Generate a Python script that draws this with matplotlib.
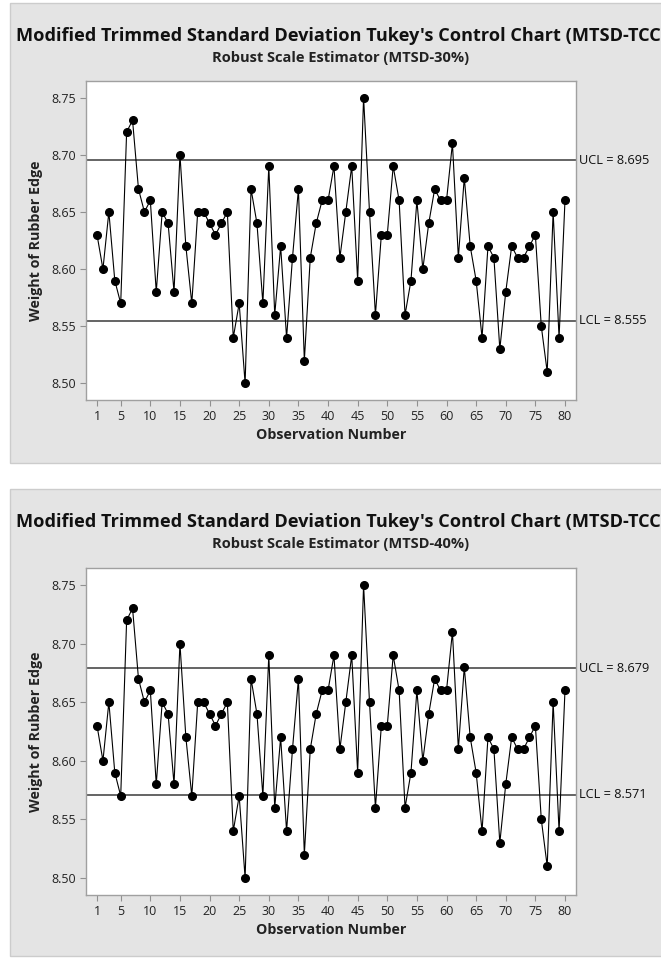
import matplotlib.pyplot as plt
from matplotlib.patches import Rectangle

plt.rcParams['font.family'] = ['Open Sans', 'DejaVu Sans']

# weight of rubber edge, observations 1..80
obs = list(range(1, 81))
weight = [8.63, 8.60, 8.65, 8.59, 8.57, 8.72, 8.73, 8.67, 8.65, 8.66,
          8.58, 8.65, 8.64, 8.58, 8.70, 8.62, 8.57, 8.65, 8.65, 8.64,
          8.63, 8.64, 8.65, 8.54, 8.57, 8.50, 8.67, 8.64, 8.57, 8.69,
          8.56, 8.62, 8.54, 8.61, 8.67, 8.52, 8.61, 8.64, 8.66, 8.66,
          8.69, 8.61, 8.65, 8.69, 8.59, 8.75, 8.65, 8.56, 8.63, 8.63,
          8.69, 8.66, 8.56, 8.59, 8.66, 8.60, 8.64, 8.67, 8.66, 8.66,
          8.71, 8.61, 8.68, 8.62, 8.59, 8.54, 8.62, 8.61, 8.53, 8.58,
          8.62, 8.61, 8.61, 8.62, 8.63, 8.55, 8.51, 8.65, 8.54, 8.66]

subtitles = ["Robust Scale Estimator (MTSD-30%)", "Robust Scale Estimator (MTSD-40%)"]
ucl_vals = [8.695, 8.679]
lcl_vals = [8.555, 8.571]

x_ticks = [1, 5, 10, 15, 20, 25, 30, 35, 40, 45, 50, 55, 60, 65, 70, 75, 80]
y_ticks = [8.50, 8.55, 8.60, 8.65, 8.70, 8.75]

W, H = 661, 958
fig = plt.figure(figsize=(W / 100, H / 100), dpi=100)

BG = '#e4e4e4'

def px_rect(left, top, right, bottom):
    return [left / W, 1 - bottom / H, (right - left) / W, (bottom - top) / H]

def panel(top, bottom, ax_top, ax_bottom, subtitle, ucl, lcl):
    # gray frame behind each chart
    fig.patches.append(Rectangle((10 / W, 1 - bottom / H), (W - 10) / W + 0.01,
                                 (bottom - top) / H, transform=fig.transFigure,
                                 facecolor=BG, edgecolor='#cccccc', lw=1, zorder=-5))
    # long title runs off the right edge of the frame
    fig.text(16 / W, 1 - (top + 33) / H,
             "Modified Trimmed Standard Deviation Tukey's Control Chart (MTSD-TCC)",
             ha='left', va='center', fontsize=13.1, fontweight='bold', color='#111111')
    fig.text(341 / W, 1 - (top + 55) / H, subtitle, ha='center', va='center',
             fontsize=10.5, fontweight='bold', color='#222222')

    ax = fig.add_axes(px_rect(86, ax_top, 576, ax_bottom))
    ax.plot(obs, weight, color='black', lw=0.8, marker='o', ms=5.5, zorder=3)
    ax.axhline(ucl, color='#3a3a3a', lw=1.1, zorder=2)
    ax.axhline(lcl, color='#3a3a3a', lw=1.1, zorder=2)
    ax.text(1.006, ucl, f"UCL = {ucl:.3f}", transform=ax.get_yaxis_transform(),
            ha='left', va='center', fontsize=9.2, color='#111111')
    ax.text(1.006, lcl, f"LCL = {lcl:.3f}", transform=ax.get_yaxis_transform(),
            ha='left', va='center', fontsize=9.2, color='#111111')

    ax.set_xlim(-0.86, 81.86)
    ax.set_ylim(8.4855, 8.7645)
    ax.set_xticks(x_ticks)
    ax.set_yticks(y_ticks)
    ax.set_yticklabels([f"{v:.2f}" for v in y_ticks])
    ax.tick_params(direction='out', length=4, width=0.8, color='#909090',
                   labelsize=9, labelcolor='#222222', pad=3)
    for s in ax.spines.values():
        s.set_color('#a0a0a0')
        s.set_linewidth(1)
    ax.set_xlabel("Observation Number", fontsize=10.3, fontweight='bold',
                  color='#222222', labelpad=4)
    ax.set_ylabel("Weight of Rubber Edge", fontsize=10.3, fontweight='bold',
                  color='#222222', labelpad=6)
    return ax

panel(3, 463, 81, 400, subtitles[0], ucl_vals[0], lcl_vals[0])
panel(489, 956, 568, 895, subtitles[1], ucl_vals[1], lcl_vals[1])

fig.savefig('out.png', dpi=100)
